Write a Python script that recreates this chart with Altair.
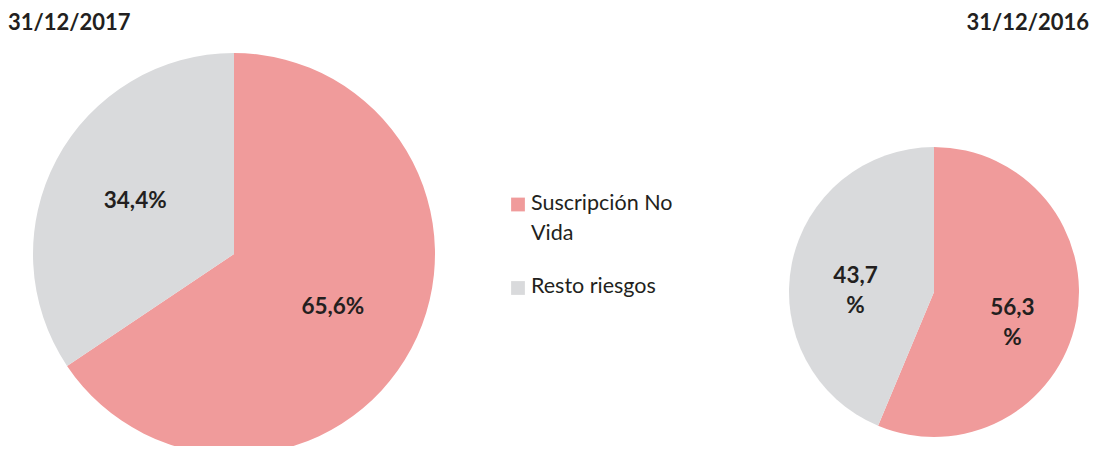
import altair as alt
import pandas as pd

categories = ["Suscripción No Vida", "Resto riesgos"]
legend_text = ["Suscripción No\nVida", "Resto riesgos"]
values_2017 = [65.6, 34.4]
values_2016 = [56.3, 43.7]
labels_2017 = ["65,6%", "34,4%"]
labels_2016 = ["56,3\n%", "43,7\n%"]
dates = ["31/12/2017", "31/12/2016"]
colors = ["#F09B9B", "#D9DADC"]

FONT = "Lato"
TXT = "#231F20"

df17 = pd.DataFrame({"cat": categories, "value": values_2017, "label": labels_2017, "ord": [0, 1]})
df16 = pd.DataFrame({"cat": categories, "value": values_2016, "label": labels_2016, "ord": [0, 1]})
dleg = pd.DataFrame({"cat": categories, "txt": legend_text})

color = alt.Color("cat:N", scale=alt.Scale(domain=categories, range=colors), legend=None)


def pie(df, cx, cy, r, lr, lh):
    base = alt.Chart(df).encode(
        theta=alt.Theta("value:Q", stack=True),
        order=alt.Order("ord:Q"),
    )
    arc = base.mark_arc(outerRadius=r, x=cx, y=cy).encode(color=color)
    txt = base.mark_text(
        radius=lr, x=cx, y=cy, fontSize=22.5, fontWeight="bold", font=FONT,
        color=TXT, lineBreak="\n", lineHeight=lh,
    ).encode(text="label:N")
    return arc + txt


left = pie(df17, 226, 246, 201, 112, 30)
right = pie(df16, 926, 284, 145, 80, 30)

ly = alt.Y("cat:N", scale=alt.Scale(type="point", domain=categories, range=[196.5, 280], padding=0), axis=None)
leg_sq = alt.Chart(dleg).mark_square(x=510, size=190, opacity=1).encode(y=ly, color=color)
leg_tx = alt.Chart(dleg).mark_text(
    x=523, dy=5, align="left", baseline="alphabetic", fontSize=21.5, font=FONT,
    color=TXT, lineBreak="\n", lineHeight=30,
).encode(y=ly, text="txt:N")

t1 = alt.Chart(pd.DataFrame({"d": [dates[0]]})).mark_text(
    x=0, y=22, align="left", baseline="alphabetic", fontSize=22, fontWeight="bold", font=FONT, color=TXT
).encode(text="d:N")
t2 = alt.Chart(pd.DataFrame({"d": [dates[1]]})).mark_text(
    x=1081, y=22, align="right", baseline="alphabetic", fontSize=22, fontWeight="bold", font=FONT, color=TXT
).encode(text="d:N")

chart = alt.layer(left, right, leg_sq, leg_tx, t1, t2).resolve_scale(theta="independent").properties(
    width=1082, height=438, padding=0, autosize=alt.AutoSizeParams(type="none")
).configure_view(stroke=None)

chart.save("out.html", embed_options={"renderer": "svg", "actions": False})
